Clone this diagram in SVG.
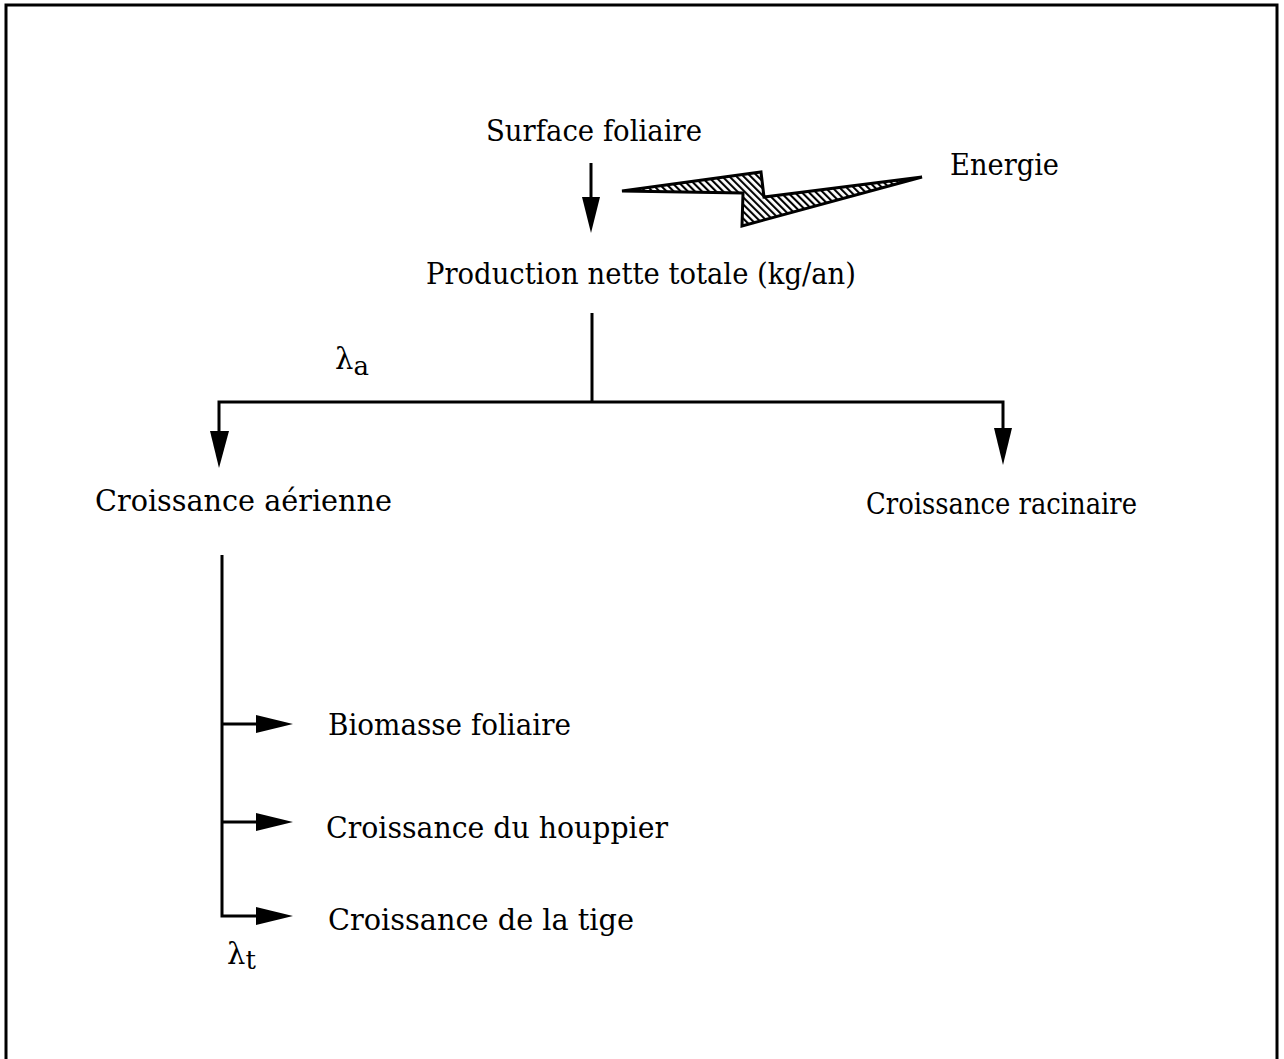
<svg xmlns="http://www.w3.org/2000/svg" width="1284" height="1059" viewBox="0 0 1284 1059">
<style>
.t{font-family:"DejaVu Serif","Liberation Serif",serif;font-size:29px;fill:#000}
.ln{stroke:#000;stroke-width:3;fill:none}
.ah{fill:#000}
</style>
<defs>
<pattern id="hatch" width="5" height="5" patternUnits="userSpaceOnUse" patternTransform="rotate(-45)">
<rect width="5" height="5" fill="#fff"/>
<line x1="1" y1="0" x2="1" y2="5" stroke="#000" stroke-width="2.2"/>
</pattern>
</defs>
<rect x="6" y="5" width="1271" height="1070" fill="#fff" stroke="#000" stroke-width="3"/>
<g id="connectors">
<line class="ln" x1="591" y1="163" x2="591" y2="200"/>
<polygon class="ah" points="582,197 600,197 591,233"/>
<polygon id="bolt" points="622,191 761,172 764,197 922,177 742,226 743,193" fill="url(#hatch)" stroke="#000" stroke-width="3" stroke-linejoin="miter"/>
<line class="ln" x1="592" y1="313" x2="592" y2="402"/>
<polyline class="ln" points="219,434 219,402 1003,402 1003,432"/>
<polygon class="ah" points="210,431 229,431 219,468"/>
<polygon class="ah" points="994,428 1012,428 1003,465"/>
<polyline class="ln" points="222,555 222,916 258,916"/>
<line class="ln" x1="222" y1="724" x2="258" y2="724"/>
<line class="ln" x1="222" y1="822" x2="258" y2="822"/>
<polygon class="ah" points="256,715 293,724 256,733"/>
<polygon class="ah" points="256,813 293,822 256,831"/>
<polygon class="ah" points="256,907 293,916 256,925"/>
</g>
<g id="n-surface"><text class="t" x="486" y="141" textLength="216" lengthAdjust="spacingAndGlyphs">Surface foliaire</text></g>
<g id="n-energie"><text class="t" x="950" y="175" textLength="109" lengthAdjust="spacingAndGlyphs">Energie</text></g>
<g id="n-production"><text class="t" x="426" y="284" textLength="430" lengthAdjust="spacingAndGlyphs">Production nette totale (kg/an)</text></g>
<g id="n-lambda-a"><text class="t" x="335" y="369" font-size="32">λ<tspan dy="6" font-size="26">a</tspan></text></g>
<g id="n-aerienne"><text class="t" x="95" y="511" textLength="297" lengthAdjust="spacingAndGlyphs">Croissance aérienne</text></g>
<g id="n-racinaire"><text class="t" x="866" y="514" textLength="271" lengthAdjust="spacingAndGlyphs">Croissance racinaire</text></g>
<g id="n-biomasse"><text class="t" x="328" y="735" textLength="243" lengthAdjust="spacingAndGlyphs">Biomasse foliaire</text></g>
<g id="n-houppier"><text class="t" x="326" y="838" textLength="342" lengthAdjust="spacingAndGlyphs">Croissance du houppier</text></g>
<g id="n-tige"><text class="t" x="328" y="930" textLength="306" lengthAdjust="spacingAndGlyphs">Croissance de la tige</text></g>
<g id="n-lambda-t"><text class="t" x="227" y="964" font-size="32">λ<tspan dy="5" font-size="26">t</tspan></text></g>
</svg>
